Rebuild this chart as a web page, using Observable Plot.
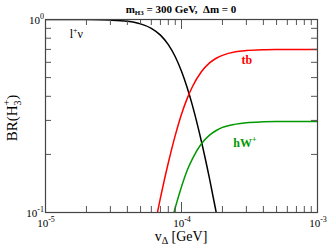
<!DOCTYPE html>
<html><head><meta charset="utf-8">
<script src="https://cdn.jsdelivr.net/npm/d3@7"></script>
<script src="https://cdn.jsdelivr.net/npm/@observablehq/plot@0.6"></script>
<style>body{margin:0;background:#fff} svg text, svg tspan{font-family:"Liberation Serif",serif !important}</style>
</head><body><div id="c"></div>
<script>
const vLnu = [1e-5,2e-5,3e-5,4e-5,5e-5,6e-5,7e-5,8e-5,9e-5,1e-4,1.1e-4,1.2e-4,1.4e-4,1.6e-4,1.8e-4,2e-4];
const brLnu = [1.0,0.9986,0.993,0.979,0.949,0.900,0.830,0.741,0.641,0.539,0.444,0.361,0.234,0.152,0.100,0.068];
const vTb = [6e-5,7e-5,8e-5,9e-5,1e-4,1.1e-4,1.2e-4,1.4e-4,1.6e-4,1.8e-4,2e-4,2.5e-4,3e-4,4e-4,5e-4,7e-4,1e-3];
const brTb = [0.070,0.119,0.181,0.251,0.323,0.389,0.447,0.536,0.594,0.630,0.652,0.680,0.690,0.697,0.699,0.700,0.700];
const vHw = [8e-5,9e-5,1e-4,1.1e-4,1.2e-4,1.4e-4,1.6e-4,1.8e-4,2e-4,2.5e-4,3e-4,4e-4,5e-4,7e-4,1e-3];
const brHw = [0.077,0.106,0.136,0.165,0.189,0.227,0.251,0.266,0.276,0.287,0.292,0.295,0.296,0.296,0.296];
const xMajor = [1e-5,1e-4,1e-3];
const xMajorLabels = ["-5","-4","-3"];
const xMinor = [2e-5,3e-5,4e-5,5e-5,6e-5,7e-5,8e-5,9e-5,2e-4,3e-4,4e-4,5e-4,6e-4,7e-4,8e-4,9e-4];
const yMajor = [0.1,1];
const yMajorLabels = ["-1","0"];
const yMinor = [0.2,0.3,0.4,0.5,0.6,0.7,0.8,0.9];
const curveLabels = [
  {x:1.7e-5, y:0.84, t:"l", sup:"+", t2:"ν", c:"#000", w:"normal"},
  {x:3.05e-4, y:0.615, t:"tb", sup:"", t2:"", c:"#ff0000", w:"bold"},
  {x:2.95e-4, y:0.228, t:"hW", sup:"+", t2:"", c:"#009900", w:"bold"}
];

const toRows = (xs, ys) => xs.map((x,i)=>({x, y: ys[i]}));
const FH = 193, FW = 272;
const tk = {stroke:"#555", strokeWidth:1};
const plot = Plot.plot({
  width: 327, height: 249,
  marginLeft: 45, marginRight: 10, marginTop: 19, marginBottom: 37,
  x: {type:"log", domain:[1e-5,1e-3], axis:null},
  y: {type:"log", domain:[0.1,1], axis:null},
  marks: [
    Plot.line(toRows(vLnu, brLnu), {x:"x", y:"y", stroke:"#000", strokeWidth:1.5, curve:"monotone-x", clip:true}),
    Plot.line(toRows(vTb, brTb), {x:"x", y:"y", stroke:"#ff0000", strokeWidth:1.5, curve:"monotone-x", clip:true}),
    Plot.line(toRows(vHw, brHw), {x:"x", y:"y", stroke:"#009900", strokeWidth:1.5, curve:"monotone-x", clip:true}),
    Plot.tickX(xMinor, {x:d=>d, insetTop:FH-6, ...tk}),
    Plot.tickX(xMinor, {x:d=>d, insetBottom:FH-6, ...tk}),
    Plot.tickX(xMajor, {x:d=>d, insetTop:FH-10, ...tk}),
    Plot.tickX(xMajor, {x:d=>d, insetBottom:FH-10, ...tk}),
    Plot.tickY(yMinor, {y:d=>d, insetRight:FW-6, ...tk}),
    Plot.tickY(yMinor, {y:d=>d, insetLeft:FW-6, ...tk}),
    Plot.frame({stroke:"#444", strokeWidth:1.2})
  ]
});
const svg = d3.select(plot);
const sx = plot.scale("x"), sy = plot.scale("y");
const g = svg.append("g").attr("fill","#000");
xMajor.forEach((v,i)=>{
  const t = g.append("text").attr("x", sx.apply(v)+1).attr("y", 227).attr("text-anchor","middle").attr("font-size",11);
  t.append("tspan").text("10");
  t.append("tspan").attr("font-size",8).attr("dy",-5).text(xMajorLabels[i]);
});
yMajor.forEach((v,i)=>{
  const t = g.append("text").attr("x", 44).attr("y", sy.apply(v)+5).attr("text-anchor","end").attr("font-size",11);
  t.append("tspan").text("10");
  t.append("tspan").attr("font-size",8).attr("dy",-5).text(yMajorLabels[i]);
});
// title
const tt = g.append("text").attr("x",181).attr("y",13).attr("text-anchor","middle").attr("font-size",11).attr("font-weight","bold");
tt.append("tspan").text("m");
tt.append("tspan").attr("font-size",7).attr("dy",2).text("H3");
tt.append("tspan").attr("dy",-2).text(" = 300 GeV,  Δm = 0");
// x label
const xl = g.append("text").attr("x",181).attr("y",241).attr("text-anchor","middle").attr("font-size",14);
xl.append("tspan").text("v");
xl.append("tspan").attr("font-size",10).attr("dy",3).text("Δ");
xl.append("tspan").attr("dy",-3).text(" [GeV]");
// y label
const yl = g.append("text").attr("transform","translate(17,118) rotate(-90)").attr("text-anchor","middle").attr("font-size",15);
yl.append("tspan").text("BR(H");
yl.append("tspan").attr("font-size",10).attr("dy",4).text("3");
yl.append("tspan").attr("font-size",10).attr("dy",-11).attr("dx",-5).text("+");
yl.append("tspan").attr("font-size",15).attr("dy",7).text(")");
// curve labels
curveLabels.forEach(d=>{
  const t = g.append("text").attr("x", sx.apply(d.x)).attr("y", sy.apply(d.y)+4).attr("text-anchor","middle")
    .attr("font-size",12).attr("font-weight",d.w).attr("fill",d.c);
  t.append("tspan").text(d.t);
  if (d.sup) t.append("tspan").attr("font-size",8).attr("dy",-5).text(d.sup);
  if (d.t2) t.append("tspan").attr("dy",5).text(d.t2);
});
document.getElementById("c").appendChild(plot);
</script></body></html>
